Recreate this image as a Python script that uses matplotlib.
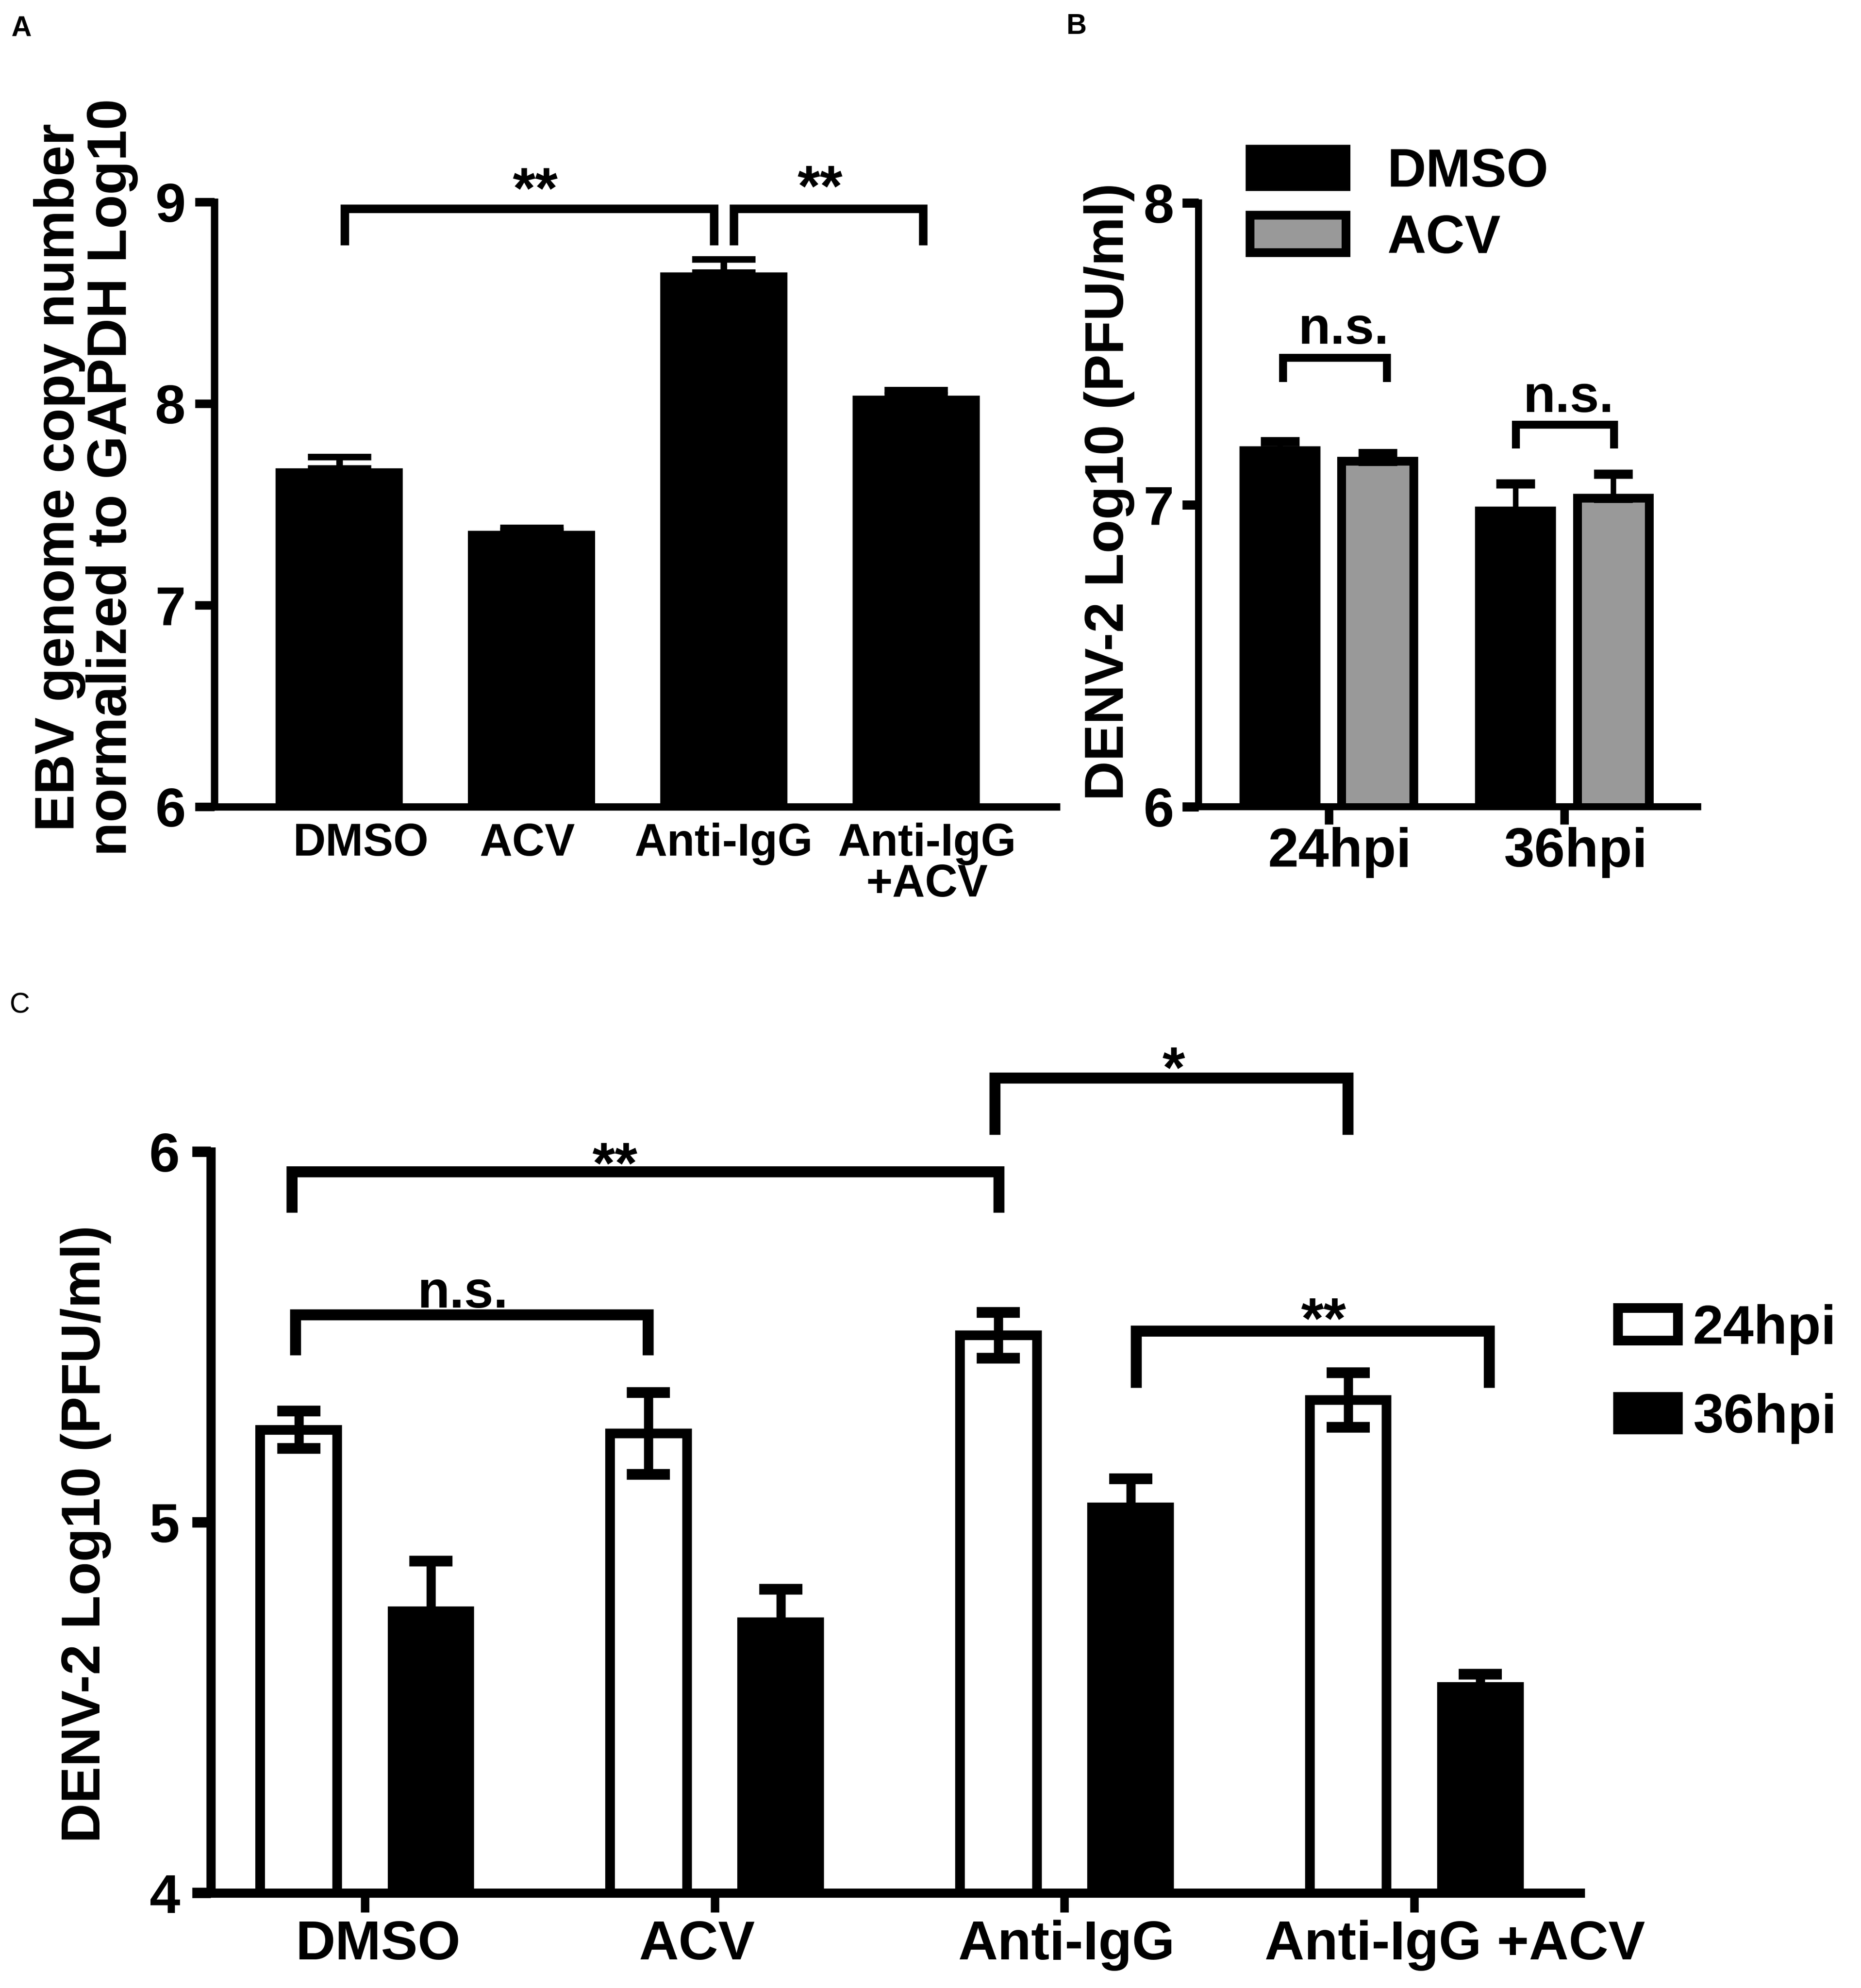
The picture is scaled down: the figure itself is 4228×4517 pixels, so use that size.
import matplotlib.pyplot as plt
import matplotlib.transforms as mtransforms
import numpy as np

plt.rcParams['font.family'] = ['Liberation Sans', 'DejaVu Sans']
plt.rcParams['font.weight'] = 'bold'

# A: EBV genome copies
labels_a = ['DMSO', 'ACV', 'Anti-IgG', 'Anti-IgG\n+ACV']
ebv_a = [7.68, 7.37, 8.65, 8.04]
ebv_err_a = [0.055, 0.015, 0.066, 0.027]

# B: DENV-2 titre, DMSO vs ACV
hpi_b = ['24hpi', '36hpi']
dmso_b = [7.18, 6.98]
acv_b = [7.145, 7.022]
dmso_err_b = [0.03, 0.09]
acv_err_b = [0.025, 0.08]

# C: DENV-2 titre per treatment
groups_c = ['DMSO', 'ACV', 'Anti-IgG', 'Anti-IgG +ACV']
h24_c = [5.25, 5.24, 5.505, 5.33]
h36_c = [4.76, 4.73, 5.04, 4.556]
h24_err_c = [0.05, 0.11, 0.062, 0.074]
h36_err_c = [0.136, 0.089, 0.077, 0.034]

W, H = 4228, 4517
fig = plt.figure(figsize=(W / 100, H / 100), dpi=100)


def px_axes(left, top, right, bottom):
    return fig.add_axes([left / W, 1 - bottom / H, (right - left) / W, (bottom - top) / H])


def bracket(ax, x1, x2, top, bottom, lw):
    ax.plot([x1, x1, x2, x2], [bottom, top, top, bottom], color='black', lw=lw,
            solid_capstyle='butt', solid_joinstyle='miter', clip_on=False)


def style(ax, spine_lw):
    for s in ['top', 'right']:
        ax.spines[s].set_visible(False)
    for s in ['left', 'bottom']:
        ax.spines[s].set_linewidth(spine_lw)


def nudge(label, dx_px):
    label.set_transform(label.get_transform() +
                        mtransforms.ScaledTranslation(dx_px / 100, 0, fig.dpi_scale_trans))


# ---------------- A
axA = px_axes(487, 459, 2400, 1833)
xa = np.arange(len(labels_a))
axA.bar(xa, ebv_a, width=0.662, color='black', linewidth=0)
axA.errorbar(xa, ebv_a, yerr=[np.zeros(len(xa)), ebv_err_a], fmt='none', ecolor='black',
             elinewidth=10.8, capsize=52, capthick=10.8)
axA.set_ylim(6, 9)
axA.set_yticks([6, 7, 8, 9])
axA.set_xlim(-0.65, 3.73)
axA.set_xticks(xa)
axA.set_xticklabels(labels_a, linespacing=0.95)
style(axA, 12)
axA.tick_params(axis='y', length=32, width=14, pad=15, labelsize=90)
axA.tick_params(axis='x', length=0, pad=26, labelsize=74)
for lbl, dx in zip(axA.get_xticklabels(), [48, -10, 0, 25]):
    nudge(lbl, dx)
bracket(axA, 0.027, 1.949, 8.967, 8.786, 14)
bracket(axA, 2.052, 3.036, 8.967, 8.786, 14)
axA.text(1.02, 8.97, '**', ha='center', va='baseline', fontsize=95)
axA.text(2.50, 8.98, '**', ha='center', va='baseline', fontsize=95)

fig.text(195 / W, 1 - 1085 / H, 'EBV genome copy number\nnormalized to GAPDH Log10',
         rotation=90, ha='center', va='center', fontsize=91, linespacing=1.0)

# ---------------- B
axB = px_axes(2723, 461, 3857, 1833)
xb = np.arange(len(hpi_b))
off_b, w_b = 0.2075, 0.305
axB.bar(xb - off_b, dmso_b, width=w_b, color='black', edgecolor='black', linewidth=14.4, label='DMSO')
axB.bar(xb + off_b, acv_b, width=w_b, color='#999999', edgecolor='black', linewidth=14.4, label='ACV')
axB.errorbar(xb - off_b, dmso_b, yerr=[np.zeros(2), dmso_err_b], fmt='none', ecolor='black',
             elinewidth=9, capsize=32, capthick=15, zorder=3)
axB.errorbar(xb + off_b, acv_b, yerr=[np.zeros(2), acv_err_b], fmt='none', ecolor='black',
             elinewidth=9, capsize=32, capthick=15, zorder=3)
axB.set_ylim(6, 8)
axB.set_yticks([6, 7, 8])
axB.set_xlim(-0.553, 1.566)
axB.set_xticks(xb)
axB.set_xticklabels(hpi_b)
style(axB, 11.5)
axB.tick_params(axis='y', length=27, width=15, pad=13, labelsize=90)
axB.tick_params(axis='x', length=29, width=14, pad=4, labelsize=90)
for lbl in axB.get_xticklabels():
    nudge(lbl, 25)
bracket(axB, -0.194, 0.247, 7.487, 7.406, 13)
bracket(axB, 0.794, 1.211, 7.266, 7.187, 13)
axB.text(0.064, 7.534, 'n.s.', ha='center', va='baseline', fontsize=86)
axB.text(1.019, 7.307, 'n.s.', ha='center', va='baseline', fontsize=86)
axB.legend(loc='upper left', bbox_to_anchor=(2840 / W, 1 - 335 / H), bbox_transform=fig.transFigure,
           frameon=False, fontsize=88, handlelength=1.78, handleheight=0.69, handletextpad=0.77,
           labelspacing=0.30, borderpad=0, borderaxespad=0)

fig.text(2520 / W, 1 - 1117 / H, 'DENV-2 Log10 (PFU/ml)', rotation=90, ha='center', va='center',
         fontsize=90)

# ---------------- C
axC = px_axes(479, 2617, 3590, 4301)
xc = np.arange(len(groups_c))
off_c, w_c = 0.189, 0.22
axC.bar(xc - off_c, h24_c, width=w_c, color='white', edgecolor='black', linewidth=15.8, label='24hpi')
axC.bar(xc + off_c, h36_c, width=w_c, color='black', edgecolor='black', linewidth=15.8, label='36hpi')
axC.errorbar(xc - off_c, h24_c, yerr=h24_err_c, fmt='none', ecolor='black',
             elinewidth=15, capsize=35.6, capthick=17.6, zorder=3)
axC.errorbar(xc + off_c, h36_c, yerr=h36_err_c, fmt='none', ecolor='black',
             elinewidth=15, capsize=35.6, capthick=17.6, zorder=3)
axC.set_ylim(4, 6)
axC.set_yticks([4, 5, 6])
axC.set_xlim(-0.44, 3.474)
axC.set_xticks(xc)
axC.set_xticklabels(groups_c)
style(axC, 15)
axC.tick_params(axis='y', length=30, width=17, pad=21, labelsize=90)
axC.tick_params(axis='x', length=32, width=14, pad=12, labelsize=90)
for lbl, dx in zip(axC.get_xticklabels(), [30, -40, 5, 92]):
    nudge(lbl, dx)
bracket(axC, -0.198, 0.809, 5.561, 5.451, 18)
bracket(axC, -0.208, 1.812, 5.947, 5.836, 18)
bracket(axC, 1.801, 2.810, 6.200, 6.046, 18)
bracket(axC, 2.205, 3.214, 5.517, 5.364, 18)
axC.text(0.281, 5.579, 'n.s.', ha='center', va='baseline', fontsize=86)
axC.text(0.715, 5.916, '**', ha='center', va='baseline', fontsize=95)
axC.text(2.312, 6.174, '*', ha='center', va='baseline', fontsize=95)
axC.text(2.741, 5.497, '**', ha='center', va='baseline', fontsize=95)
axC.legend(loc='upper left', bbox_to_anchor=(3676 / W, 1 - 2963 / H), bbox_transform=fig.transFigure,
           frameon=False, fontsize=90, handlelength=1.09, handleheight=0.54, handletextpad=0.27,
           labelspacing=0.69, borderpad=0, borderaxespad=0)

fig.text(195 / W, 1 - 3485 / H, 'DENV-2 Log10 (PFU/ml)', rotation=90, ha='center', va='center',
         fontsize=90)

# panel letters
fig.text(25 / W, 1 - 35 / H, 'A', ha='left', va='top', fontsize=46)
fig.text(2423 / W, 1 - 30 / H, 'B', ha='left', va='top', fontsize=46)
fig.text(22 / W, 1 - 2255 / H, 'C', ha='left', va='top', fontsize=46, fontweight='normal')

fig.savefig('out.png', dpi=100)
